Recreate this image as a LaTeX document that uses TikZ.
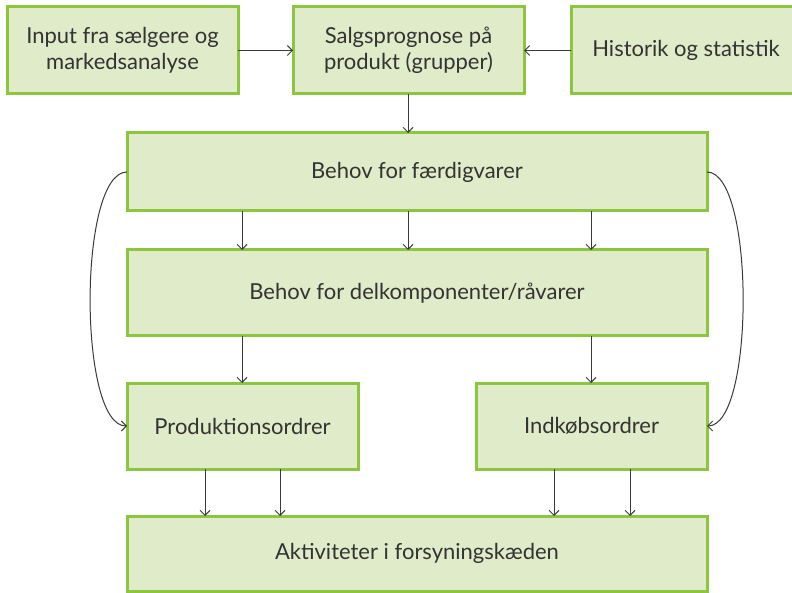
\documentclass[tikz,border=0pt]{standalone}
\usepackage{fontspec}
\setmainfont{Lato}
\usetikzlibrary{arrows.meta}
\definecolor{boxfill}{HTML}{DFEBC9}
\definecolor{boxedge}{HTML}{8CC63F}
\definecolor{txt}{HTML}{333333}
\definecolor{arr}{HTML}{3A3A3A}
\begin{document}
\begin{tikzpicture}[x=1pt,y=-1pt,
  box/.style={draw=boxedge,fill=boxfill,line width=3pt,inner sep=0pt,outer sep=0pt,
    align=center,text=txt,font=\fontsize{22}{26}\selectfont},
  flow/.style={draw=arr,line width=1pt,-{Straight Barb[length=5pt,width=10pt]}}]
\useasboundingbox (0,0) rectangle (792,593);
\clip (0,0) rectangle (792,593);
% top row
\node[box,minimum width=231pt,minimum height=87pt] (inp) at (122.5,50.5) {Input fra sælgere og\\markedsanalyse};
\node[box,minimum width=231pt,minimum height=87pt] (prog) at (408.5,50.5) {Salgsprognose på\\produkt (grupper)};
\node[box,minimum width=230pt,minimum height=87pt] (hist) at (686,50.5) {Historik og statistik};
% needs
\node[box,minimum width=580pt,minimum height=78pt] (fv) at (417,172) {Behov for færdigvarer};
\node[box,minimum width=580pt,minimum height=86pt] (dk) at (417,293) {Behov for delkomponenter/råvarer};
% orders
\node[box,minimum width=231pt,minimum height=86pt] (po) at (242.5,426) {Produktionsordrer};
\node[box,minimum width=231pt,minimum height=86pt] (io) at (591.5,426) {Indkøbsordrer};
% activities
\node[box,minimum width=580pt,minimum height=75pt] (akt) at (417,553.5) {Aktiviteter i forsyningskæden};
% connectors
\draw[flow] (inp) -- (prog);
\draw[flow] (hist) -- (prog);
\draw[flow] (prog.south -| 408,0) -- (fv.north -| 408,0);
\foreach \xx in {242,408,591}
  \draw[flow] (fv.south -| \xx,0) -- (dk.north -| \xx,0);
\draw[flow] (dk.south -| 242,0) -- (po.north -| 242,0);
\draw[flow] (dk.south -| 591,0) -- (io.north -| 591,0);
\foreach \xx in {205,280}
  \draw[flow] (po.south -| \xx,0) -- (akt.north -| \xx,0);
\foreach \xx in {554,630}
  \draw[flow] (io.south -| \xx,0) -- (akt.north -| \xx,0);
\draw[flow] (fv.west) .. controls (78,172) and (78,426) .. (po.west);
\draw[flow] (fv.east) .. controls (755,172) and (755,426) .. (io.east);
\end{tikzpicture}
\end{document}
